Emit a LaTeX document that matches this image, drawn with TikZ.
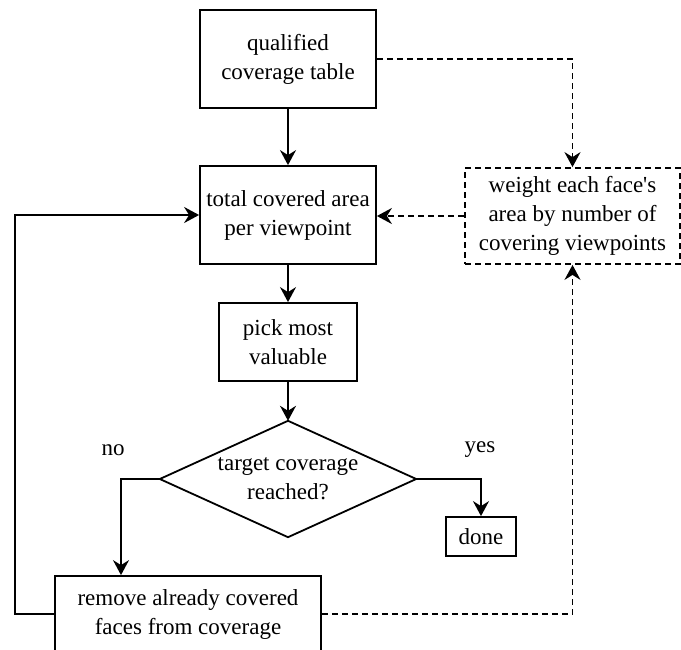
\documentclass[tikz,border=0pt]{standalone}
\usepackage{fontspec}
\setmainfont{Liberation Serif}
\newfontfamily\tnr{Liberation Serif}
\usetikzlibrary{arrows.meta}
\begin{document}
\begin{tikzpicture}[x=1pt,y=-1pt,
  txt/.style={font=\tnr\fontsize{23}{29}\selectfont},
  box/.style={draw,line width=1.8pt,rectangle,inner sep=0pt,align=center,txt},
  dbox/.style={box,dash pattern=on 6pt off 4pt},
  arr/.style={line width=1.8pt,-{Stealth[length=15pt,width=16pt,inset=5pt]}},
  darr/.style={arr,dash pattern=on 6pt off 4pt},
  lbl/.style={txt,inner sep=0pt}]
\useasboundingbox (0,0) rectangle (681,649);
\node[box,minimum width=176pt,minimum height=98pt] (q) at (288,59) {qualified\\coverage table};
\node[box,minimum width=176pt,minimum height=98pt] (b) at (288,215) {total covered area\\per viewpoint};
\node[dbox,minimum width=215pt,minimum height=96pt] (w) at (572.5,216) {weight each face\textquotesingle s\\area by number of\\covering viewpoints};
\node[box,minimum width=138pt,minimum height=78pt] (p) at (288,342) {pick most\\valuable};
\node[lbl,align=center,minimum width=256pt,minimum height=116pt] (t) at (288,479) {target coverage\\reached?};
\draw[line width=1.8pt,line join=miter] (t.north) -- (t.east) -- (t.south) -- (t.west) -- cycle;
\node[box,minimum width=70pt,minimum height=39pt] (d) at (481,536.5) {done};
\node[box,minimum width=266pt,minimum height=76pt] (r) at (188,614) {remove already covered\\faces from coverage};
\node[lbl] (no) at (113,450) {no};
\node[lbl] (yes) at (480,450) {yes};
\draw[arr] (q) -- (b);
\draw[arr] (b) -- (p);
\draw[arr] (p) -- (t.north);
\draw[arr] (t.west) -| ([xshift=-67pt]r.north);
\draw[arr] (t.east) -| (d.north);
\draw[arr] (r.west) -- ++(-39,0) |- (b.west);
\draw[darr] (q.east) -| (w.north);
\draw[darr] (w.west) -- (w.west -| b.east);
\draw[darr] (r.east) -| (w.south);
\end{tikzpicture}
\end{document}
